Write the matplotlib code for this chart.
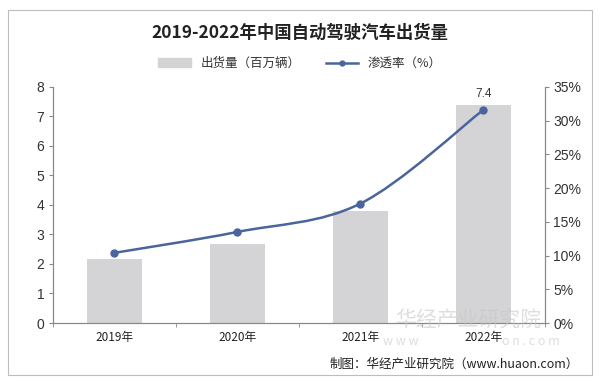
import numpy as np
import matplotlib.pyplot as plt
from matplotlib.path import Path
from matplotlib.patches import PathPatch, Rectangle
from matplotlib.lines import Line2D

plt.rcParams['font.family'] = ['Noto Sans CJK SC', 'DejaVu Sans']

years = ['2019年', '2020年', '2021年', '2022年']
shipments = [2.18, 2.68, 3.80, 7.40]        # 百万辆
penetration = [10.4, 13.5, 17.7, 31.6]      # %

num_font = ['Liberation Sans', 'Noto Sans CJK SC']

fig = plt.figure(figsize=(6, 3.78), dpi=100)
fig.patches.append(Rectangle((0.013, 0.008), 0.974, 0.965, transform=fig.transFigure,
                             fill=False, edgecolor='#bdbdbd', linewidth=0.8))

# watermark (behind everything)
fig.text(0.78, 0.152, '华经产业研究院', ha='center', va='center', fontsize=15,
         color='#c8c8c8', alpha=0.6, zorder=0)
fig.text(0.668, 0.097, 'w w w', ha='center', va='center', fontsize=9,
         color='#c8c8c8', alpha=0.6, zorder=0)
fig.text(0.885, 0.097, 'o n . c o m', ha='center', va='center', fontsize=9,
         color='#c8c8c8', alpha=0.6, zorder=0)

ax = fig.add_axes([0.088, 0.1455, 0.82, 0.6245])
ax.patch.set_alpha(0)
ax2 = ax.twinx()

x = np.arange(len(years))
ax.bar(x, shipments, width=0.45, color='#d4d4d6', zorder=2)
ax.text(x[-1], shipments[-1] + 0.15, '7.4', ha='center', va='bottom', fontsize=8.5,
        color='#333333', family=num_font)

ax.set_xlim(-0.5, len(years) - 0.5)
ax.set_ylim(0, 8)
ax.set_yticks(range(0, 9))
ax.set_xticks(x)
ax.set_xticklabels(years)
ax.set_xticks(np.arange(-0.5, len(years)), minor=True)
ax.tick_params(axis='x', which='major', length=0, pad=6, labelsize=8.5)
ax.tick_params(axis='x', which='minor', length=3, color='#888888')
ax.tick_params(axis='y', length=3, color='#888888', labelsize=10, pad=3)

ax2.set_ylim(0, 35)
ax2.set_yticks(range(0, 36, 5))
ax2.set_yticklabels([f'{v}%' for v in range(0, 36, 5)])
ax2.tick_params(axis='y', length=3, color='#888888', labelsize=10, pad=3)

for lab in ax.get_yticklabels() + ax2.get_yticklabels():
    lab.set_family(num_font)
    lab.set_color('#333333')
for lab in ax.get_xticklabels():
    lab.set_color('#222222')

for a in (ax, ax2):
    a.spines['top'].set_visible(False)
    for s in ('left', 'right', 'bottom'):
        a.spines[s].set_color('#888888')
        a.spines[s].set_linewidth(0.8)

# smooth line via Catmull-Rom -> cubic Bezier
px = x.astype(float)
py = np.array(penetration, dtype=float)
verts = [(px[0], py[0])]
codes = [Path.MOVETO]
n = len(px)
for i in range(n - 1):
    p0 = (px[max(i - 1, 0)], py[max(i - 1, 0)])
    p1 = (px[i], py[i])
    p2 = (px[i + 1], py[i + 1])
    p3 = (px[min(i + 2, n - 1)], py[min(i + 2, n - 1)])
    c1 = (p1[0] + (p2[0] - p0[0]) / 6, p1[1] + (p2[1] - p0[1]) / 6)
    c2 = (p2[0] - (p3[0] - p1[0]) / 6, p2[1] - (p3[1] - p1[1]) / 6)
    verts += [c1, c2, p2]
    codes += [Path.CURVE4] * 3
ax2.add_patch(PathPatch(Path(verts, codes), facecolor='none', edgecolor='#4a659c',
                        linewidth=1.8, zorder=3))
ax2.plot(px, py, 'o', color='#4a659c', markersize=5, zorder=4)

fig.text(0.5, 0.913, '2019-2022年中国自动驾驶汽车出货量', ha='center', va='center',
         fontsize=12.5, fontweight='bold', color='#222222')

handles = [Rectangle((0, 0), 1, 1, color='#d4d4d6'),
           Line2D([0], [0], color='#4a659c', linewidth=1.8, marker='o', markersize=3.5)]
fig.legend(handles, ['出货量（百万辆）', '渗透率（%）'], loc='center', bbox_to_anchor=(0.5, 0.832),
           ncol=2, frameon=False, fontsize=9, handlelength=2.6, handleheight=0.7,
           columnspacing=2.0, labelcolor='#333333')

fig.text(0.965, 0.035, '制图：华经产业研究院（www.huaon.com）', ha='right', va='center',
         fontsize=9, color='#222222')

fig.savefig('out.png', dpi=100)
